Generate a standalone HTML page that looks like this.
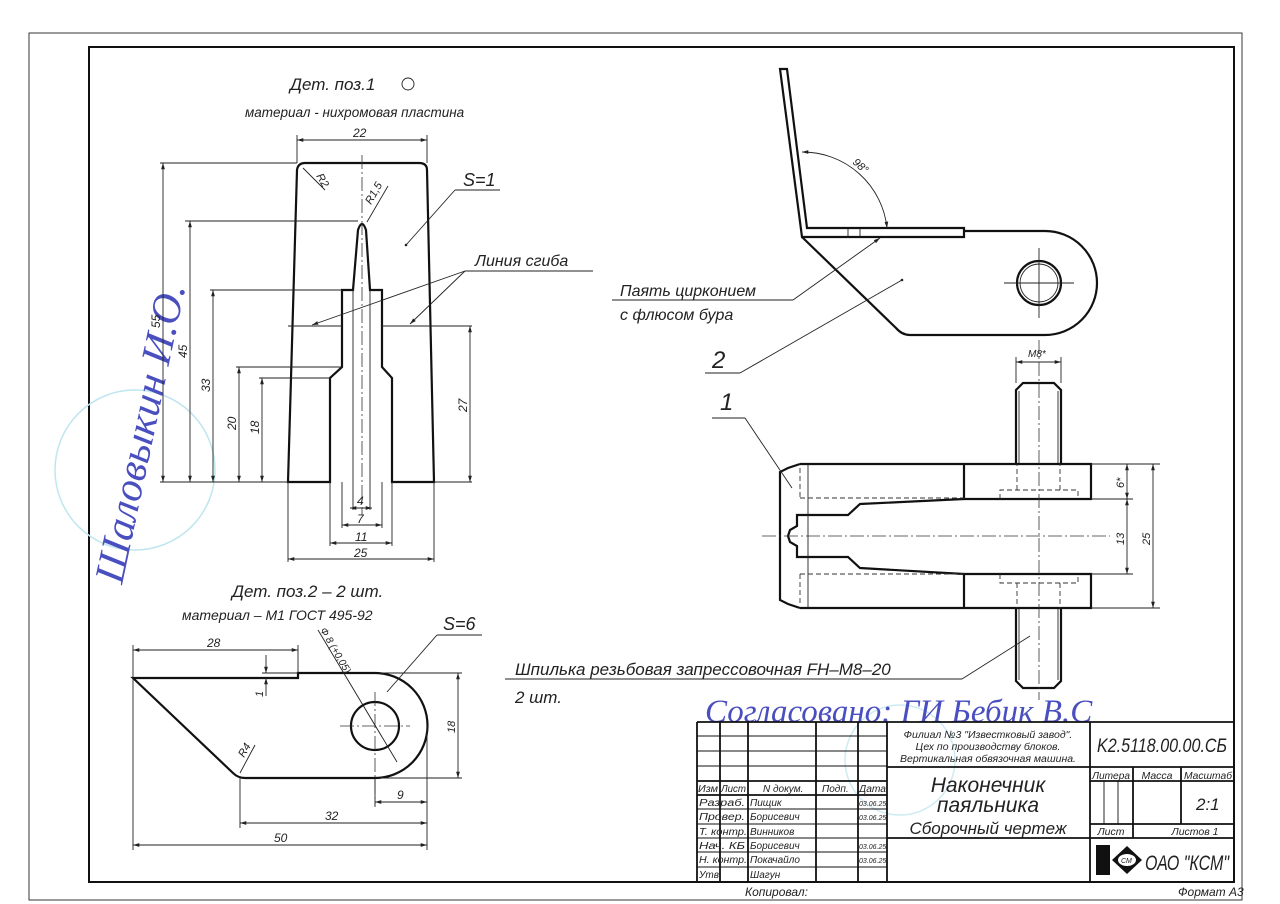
<!DOCTYPE html>
<html><head><meta charset="utf-8"><style>
html,body{margin:0;padding:0;background:#fff;}
svg{display:block}
text{font-family:"Liberation Sans",sans-serif;font-style:italic;fill:#222}
.t{stroke:#111;stroke-width:2.2;fill:none}
.n{stroke:#222;stroke-width:0.9;fill:none}
.d{stroke:#333;stroke-width:0.9;fill:none;stroke-dasharray:5 3}
.c{stroke:#333;stroke-width:0.8;fill:none;stroke-dasharray:14 3 2 3}
.b{fill:#4a4fc0;font-family:"Liberation Serif",serif}
</style></head><body>
<svg width="1280" height="904" viewBox="0 0 1280 904" xmlns="http://www.w3.org/2000/svg">
<defs>
<marker id="a" viewBox="0 0 10 10" refX="10" refY="5" markerWidth="7" markerHeight="7" orient="auto-start-reverse"><path d="M0,2 L10,5 L0,8z" fill="#222"/></marker>
</defs>
<rect x="0" y="0" width="1280" height="904" fill="#fff"/>
<rect x="29" y="33" width="1213" height="867" class="n"/>
<rect x="89" y="47" width="1145" height="835" stroke="#111" stroke-width="2" fill="none"/>

<circle cx="135" cy="470" r="80" fill="none" stroke="#bfe6f0" stroke-width="1.5"/>
<circle cx="900" cy="760" r="55" fill="none" stroke="#cdebf3" stroke-width="1.5"/>
<text class="b" x="0" y="0" font-size="42" transform="translate(122,585) rotate(-78)">Шаловыкин И.О.</text>

<!-- Part 1 -->
<text x="290" y="90" font-size="17">Дет. поз.1</text>
<circle cx="408" cy="84" r="6" class="n"/>
<text x="245" y="117" font-size="13.5">материал - нихромовая пластина</text>
<path class="t" d="M288,482 L297,170 Q298,163 305,163 L419,163 Q427,163 427,170 L434,482 L392,482 L392,378 L382,367 L382,290 L370,290 L366,230 Q362,218 358,230 L353,290 L342,290 L342,367 L330,378 L330,482 Z"/>
<line class="n" x1="288" y1="326" x2="342" y2="326"/><line class="n" x1="382" y1="326" x2="472" y2="326"/>
<line class="c" x1="362" y1="155" x2="362" y2="515"/>
<line class="n" x1="353" y1="290" x2="353" y2="510"/><line class="n" x1="370" y1="290" x2="370" y2="510"/>
<line class="n" x1="342" y1="482" x2="342" y2="528"/><line class="n" x1="382" y1="482" x2="382" y2="528"/>
<line class="n" x1="330" y1="482" x2="330" y2="546"/><line class="n" x1="392" y1="482" x2="392" y2="546"/>
<line class="n" x1="288" y1="482" x2="288" y2="562"/><line class="n" x1="434" y1="482" x2="434" y2="562"/>
<line class="n" x1="297" y1="163" x2="297" y2="135"/><line class="n" x1="427" y1="163" x2="427" y2="135"/>
<line class="n" x1="297" y1="140" x2="427" y2="140" marker-start="url(#a)" marker-end="url(#a)"/>
<text x="353" y="137" font-size="12">22</text>
<line class="n" x1="160" y1="163" x2="297" y2="163"/>
<line class="n" x1="160" y1="482" x2="288" y2="482"/>
<line class="n" x1="185" y1="221" x2="358" y2="221"/>
<line class="n" x1="210" y1="290" x2="342" y2="290"/>
<line class="n" x1="236" y1="367" x2="342" y2="367"/>
<line class="n" x1="259" y1="378" x2="330" y2="378"/>
<line class="n" x1="163" y1="163" x2="163" y2="482" marker-start="url(#a)" marker-end="url(#a)"/>
<line class="n" x1="190" y1="221" x2="190" y2="482" marker-start="url(#a)" marker-end="url(#a)"/>
<line class="n" x1="213" y1="290" x2="213" y2="482" marker-start="url(#a)" marker-end="url(#a)"/>
<line class="n" x1="239" y1="367" x2="239" y2="482" marker-start="url(#a)" marker-end="url(#a)"/>
<line class="n" x1="262" y1="378" x2="262" y2="482" marker-start="url(#a)" marker-end="url(#a)"/>
<line class="n" x1="470" y1="326" x2="470" y2="482" marker-start="url(#a)" marker-end="url(#a)"/>
<line class="n" x1="434" y1="482" x2="472" y2="482"/>
<g font-size="12">
<text transform="translate(160,328) rotate(-90)">55</text>
<text transform="translate(187,358) rotate(-90)">45</text>
<text transform="translate(210,392) rotate(-90)">33</text>
<text transform="translate(236,430) rotate(-90)">20</text>
<text transform="translate(259,434) rotate(-90)">18</text>
<text transform="translate(467,412) rotate(-90)">27</text>
<text x="357" y="505">4</text><text x="357" y="523">7</text><text x="355" y="541">11</text><text x="354" y="557">25</text>
<text transform="translate(316,176) rotate(60)" font-size="11">R2</text>
<text transform="translate(371,205) rotate(-60)" font-size="11">R1,5</text>
</g>
<line class="n" x1="350" y1="508" x2="372" y2="508" marker-start="url(#a)" marker-end="url(#a)"/>
<line class="n" x1="342" y1="525" x2="382" y2="525" marker-start="url(#a)" marker-end="url(#a)"/>
<line class="n" x1="330" y1="543" x2="392" y2="543" marker-start="url(#a)" marker-end="url(#a)"/>
<line class="n" x1="288" y1="559" x2="434" y2="559" marker-start="url(#a)" marker-end="url(#a)"/>
<line class="n" x1="303" y1="168" x2="325" y2="190"/>
<line class="n" x1="367" y1="222" x2="388" y2="186"/>
<text x="463" y="186" font-size="18">S=1</text>
<line class="n" x1="455" y1="190" x2="500" y2="190"/><line class="n" x1="455" y1="190" x2="406" y2="245"/>
<circle cx="406" cy="245" r="1.3" fill="#222"/>
<text x="475" y="266" font-size="16">Линия сгиба</text>
<line class="n" x1="465" y1="271" x2="593" y2="271"/>
<line class="n" x1="465" y1="271" x2="312" y2="325" marker-end="url(#a)"/>
<line class="n" x1="465" y1="271" x2="410" y2="324" marker-end="url(#a)"/>

<!-- Part 2 top view -->
<path class="t" d="M780,69 L787,69 L807,228 L964,228 L964,237 L802,237 Z"/>
<path class="t" d="M964,231 L1045,231 A52,52 0 0 1 1045,335 L910,335 Q902,335 896,328 L802,237"/>
<circle cx="1039" cy="283" r="22" class="t" stroke-width="1.8"/>
<circle cx="1039" cy="283" r="19" class="n"/>
<line class="n" x1="1004" y1="283" x2="1074" y2="283"/><line class="n" x1="1039" y1="248" x2="1039" y2="318"/>
<line class="n" x1="848" y1="228" x2="848" y2="237"/><line class="n" x1="860" y1="228" x2="860" y2="237"/>
<path class="n" d="M802,152 A85,85 0 0 1 887,228" marker-start="url(#a)" marker-end="url(#a)"/>
<text transform="translate(852,163) rotate(42)" font-size="11">98°</text>
<text x="620" y="296" font-size="16">Паять цирконием</text>
<text x="620" y="320" font-size="16">с флюсом бура</text>
<line class="n" x1="612" y1="300" x2="793" y2="300"/><line class="n" x1="793" y1="300" x2="880" y2="238" marker-end="url(#a)"/>
<text x="712" y="368" font-size="24">2</text>
<line class="n" x1="705" y1="373" x2="740" y2="373"/><line class="n" x1="740" y1="373" x2="902" y2="280"/>
<circle cx="902" cy="280" r="1.3" fill="#222"/>

<!-- Assembly side view -->
<line class="n" x1="1016" y1="362" x2="1061" y2="362" marker-start="url(#a)" marker-end="url(#a)"/>
<line class="n" x1="1016" y1="357" x2="1016" y2="383"/><line class="n" x1="1061" y1="357" x2="1061" y2="383"/>
<text x="1028" y="357" font-size="10">M8*</text>
<path class="t" d="M1016,464 L1016,390 L1023,383 L1054,383 L1061,390 L1061,464"/>
<path class="t" d="M1016,608 L1016,681 L1023,688 L1054,688 L1061,681 L1061,608"/>
<line class="n" x1="1019" y1="391" x2="1019" y2="464"/><line class="n" x1="1058" y1="391" x2="1058" y2="464"/>
<line class="n" x1="1019" y1="608" x2="1019" y2="680"/><line class="n" x1="1058" y1="608" x2="1058" y2="680"/>
<path class="t" d="M800,464 L1091,464 L1091,499 L964,499 L964,464"/>
<path class="t" d="M964,608 L964,574 L1091,574 L1091,608 L800,608"/>
<path class="t" d="M964,499 L860,504 L848,515 L797,515 L797,526 L790,530 L788,536 L790,542 L797,546 L797,557 L848,557 L860,568 L964,574"/>
<path class="t" d="M800,464 L788,468 L780,472 L780,600 L788,604 L800,608"/>
<line class="n" x1="808" y1="464" x2="808" y2="608"/>
<line class="d" x1="800" y1="498" x2="964" y2="498"/><line class="d" x1="800" y1="574" x2="964" y2="574"/>
<line class="d" x1="800" y1="468" x2="800" y2="498"/><line class="d" x1="800" y1="574" x2="800" y2="605"/>
<path class="d" d="M1000,499 L1000,490 L1078,490 L1078,499 M1017,490 L1017,464 M1060,490 L1060,464"/>
<path class="d" d="M1000,574 L1000,583 L1078,583 L1078,574 M1017,583 L1017,608 M1060,583 L1060,608"/>
<line class="c" x1="762" y1="536" x2="1110" y2="536"/>
<line class="c" x1="1039" y1="340" x2="1039" y2="700"/>
<line class="n" x1="1091" y1="464" x2="1160" y2="464"/><line class="n" x1="1091" y1="608" x2="1160" y2="608"/>
<line class="n" x1="1091" y1="499" x2="1133" y2="499"/><line class="n" x1="1091" y1="574" x2="1133" y2="574"/>
<line class="n" x1="1153" y1="464" x2="1153" y2="608" marker-start="url(#a)" marker-end="url(#a)"/>
<line class="n" x1="1127" y1="499" x2="1127" y2="574" marker-start="url(#a)" marker-end="url(#a)"/>
<line class="n" x1="1127" y1="464" x2="1127" y2="499" marker-start="url(#a)" marker-end="url(#a)"/>
<g font-size="11"><text transform="translate(1124,488) rotate(-90)">6*</text><text transform="translate(1124,545) rotate(-90)">13</text><text transform="translate(1150,545) rotate(-90)">25</text></g>
<text x="720" y="410" font-size="24">1</text>
<line class="n" x1="712" y1="418" x2="745" y2="418"/><line class="n" x1="745" y1="418" x2="792" y2="488"/>
<text x="515" y="675" font-size="17">Шпилька резьбовая запрессовочная FH–M8–20</text>
<line class="n" x1="505" y1="679" x2="962" y2="679"/><line class="n" x1="962" y1="679" x2="1030" y2="636"/>
<text x="515" y="703" font-size="17">2 шт.</text>

<!-- Part 3 -->
<text x="232" y="597" font-size="17">Дет. поз.2 – 2 шт.</text>
<text x="182" y="620" font-size="14">материал – М1 ГОСТ 495-92</text>
<path class="t" d="M133,678 L298,678 L298,673 L375,673 A52,52 0 0 1 375,778 L245,778 Q238,778 233,773 Z"/>
<circle cx="375" cy="726" r="24" class="t" stroke-width="1.8"/>
<line class="c" x1="340" y1="726" x2="410" y2="726"/><line class="c" x1="375" y1="692" x2="375" y2="805"/>
<line class="n" x1="318" y1="630" x2="397" y2="762"/>
<text transform="translate(320,630) rotate(60)" font-size="10">Ф 8 (+0,05)</text>
<line class="n" x1="133" y1="645" x2="133" y2="850"/><line class="n" x1="298" y1="645" x2="298" y2="673"/>
<line class="n" x1="133" y1="650" x2="298" y2="650" marker-start="url(#a)" marker-end="url(#a)"/>
<text x="207" y="647" font-size="12">28</text>
<line class="n" x1="266" y1="655" x2="266" y2="673" marker-end="url(#a)"/><line class="n" x1="266" y1="696" x2="266" y2="678" marker-end="url(#a)"/>
<line class="n" x1="262" y1="673" x2="298" y2="673"/>
<text transform="translate(263,697) rotate(-90)" font-size="11">1</text>
<line class="n" x1="427" y1="726" x2="427" y2="850"/><line class="n" x1="240" y1="778" x2="240" y2="828"/>
<line class="n" x1="375" y1="778" x2="375" y2="807"/>
<line class="n" x1="375" y1="802" x2="427" y2="802" marker-start="url(#a)" marker-end="url(#a)"/>
<line class="n" x1="240" y1="823" x2="427" y2="823" marker-start="url(#a)" marker-end="url(#a)"/>
<line class="n" x1="133" y1="845" x2="427" y2="845" marker-start="url(#a)" marker-end="url(#a)"/>
<text x="397" y="799" font-size="12">9</text><text x="325" y="820" font-size="12">32</text><text x="274" y="842" font-size="12">50</text>
<line class="n" x1="380" y1="673" x2="462" y2="673"/><line class="n" x1="380" y1="778" x2="462" y2="778"/>
<line class="n" x1="458" y1="673" x2="458" y2="778" marker-start="url(#a)" marker-end="url(#a)"/>
<text transform="translate(455,733) rotate(-90)" font-size="11">18</text>
<line class="n" x1="240" y1="773" x2="255" y2="745"/><text transform="translate(244,758) rotate(-60)" font-size="11">R4</text>
<text x="443" y="630" font-size="18">S=6</text>
<line class="n" x1="437" y1="635" x2="482" y2="635"/><line class="n" x1="437" y1="635" x2="387" y2="692"/>

<!-- Title block -->
<text class="b" x="705" y="722" font-size="33">Согласовано: ГИ Бебик В.С</text>
<g stroke="#111" stroke-width="1.8" fill="none">
<line x1="697" y1="722" x2="1234" y2="722"/>
<line x1="697" y1="722" x2="697" y2="882"/>
<line x1="720" y1="722" x2="720" y2="882"/><line x1="748" y1="722" x2="748" y2="882"/>
<line x1="816" y1="722" x2="816" y2="882"/><line x1="858" y1="722" x2="858" y2="882"/>
<line x1="887" y1="722" x2="887" y2="882"/><line x1="1090" y1="722" x2="1090" y2="882"/>
<line x1="697" y1="781" x2="887" y2="781"/><line x1="697" y1="795" x2="887" y2="795"/>
<line x1="887" y1="767" x2="1234" y2="767"/><line x1="887" y1="838" x2="1234" y2="838"/>
<line x1="1090" y1="781" x2="1234" y2="781"/><line x1="1090" y1="824" x2="1234" y2="824"/>
<line x1="1133" y1="767" x2="1133" y2="824"/><line x1="1181" y1="767" x2="1181" y2="824"/>
<line x1="1133" y1="824" x2="1133" y2="838"/>
</g>
<g stroke="#111" stroke-width="0.9">
<line x1="697" y1="736" x2="887" y2="736"/><line x1="697" y1="751" x2="887" y2="751"/><line x1="697" y1="766" x2="887" y2="766"/>
<line x1="697" y1="809" x2="887" y2="809"/><line x1="697" y1="824" x2="887" y2="824"/><line x1="697" y1="838" x2="887" y2="838"/>
<line x1="697" y1="852" x2="887" y2="852"/><line x1="697" y1="867" x2="887" y2="867"/>
<line x1="1104" y1="781" x2="1104" y2="824"/><line x1="1118" y1="781" x2="1118" y2="824"/>
</g>
<g font-size="10">
<text x="698" y="792" textLength="20" lengthAdjust="spacingAndGlyphs">Изм</text><text x="721" y="792" textLength="25" lengthAdjust="spacingAndGlyphs">Лист</text><text x="763" y="792">N докум.</text><text x="822" y="792">Подп.</text><text x="859" y="792" textLength="27" lengthAdjust="spacingAndGlyphs">Дата</text>
<text x="699" y="806" textLength="46" lengthAdjust="spacingAndGlyphs">Разраб.</text><text x="750" y="806">Пищик</text>
<text x="699" y="820" textLength="46" lengthAdjust="spacingAndGlyphs">Провер.</text><text x="750" y="820">Борисевич</text>
<text x="699" y="835" textLength="48" lengthAdjust="spacingAndGlyphs">Т. контр.</text><text x="750" y="835">Винников</text>
<text x="699" y="849" textLength="46" lengthAdjust="spacingAndGlyphs">Нач. КБ</text><text x="750" y="849">Борисевич</text>
<text x="699" y="863" textLength="48" lengthAdjust="spacingAndGlyphs">Н. контр.</text><text x="750" y="863">Покачайло</text>
<text x="699" y="878">Утв.</text><text x="750" y="878">Шагун</text>
</g>
<g font-size="7"><text x="859" y="806">03.06.25</text><text x="859" y="820">03.06.25</text><text x="859" y="849">03.06.25</text><text x="859" y="863">03.06.25</text></g>
<g font-size="10.5" text-anchor="middle">
<text x="988" y="738">Филиал №3 "Известковый завод".</text>
<text x="988" y="750">Цех по производству блоков.</text>
<text x="988" y="762">Вертикальная обвязочная машина.</text>
<text x="1111" y="779" textLength="38" lengthAdjust="spacingAndGlyphs">Литера</text><text x="1157" y="779">Масса</text><text x="1208" y="779" textLength="48" lengthAdjust="spacingAndGlyphs">Масштаб</text>
<text x="1111" y="835">Лист</text><text x="1195" y="835">Листов 1</text>
</g>
<text x="1097" y="752" font-size="19" font-style="normal" textLength="130" lengthAdjust="spacingAndGlyphs">K2.5118.00.00.CБ</text>
<g font-size="21" text-anchor="middle" font-style="normal">
<text x="988" y="792">Наконечник</text><text x="988" y="812">паяльника</text>
</g>
<text x="988" y="834" font-size="17" text-anchor="middle" font-style="normal">Сборочный чертеж</text>
<text x="1196" y="810" font-size="17">2:1</text>
<rect x="1096" y="845" width="14" height="30" fill="#111"/>
<path d="M1112,860 L1127,846 L1142,860 L1127,874 Z" fill="#111"/>
<ellipse cx="1127" cy="860" rx="9" ry="6" fill="#fff"/>
<text x="1121" y="863" font-size="7" font-style="normal">СМ</text>
<text x="1145" y="870" font-size="21" font-style="normal" textLength="84" lengthAdjust="spacingAndGlyphs">ОАО "КСМ"</text>
<text x="745" y="896" font-size="12">Копировал:</text>
<text x="1178" y="896" font-size="12">Формат А3</text>
</svg>
</body></html>
